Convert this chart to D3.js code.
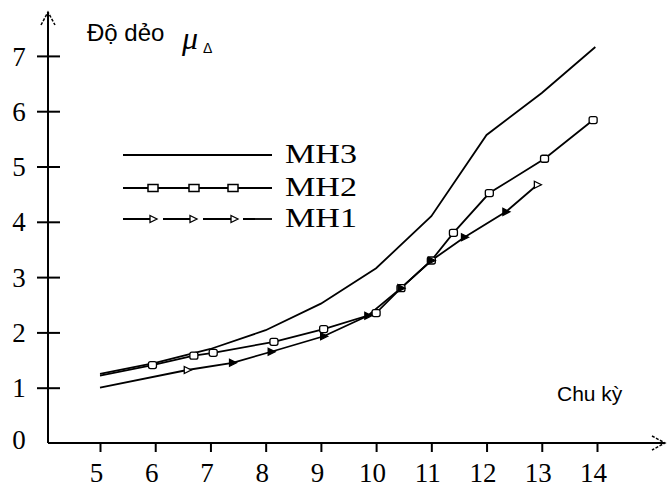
<!DOCTYPE html>
<html>
<head>
<meta charset="utf-8">
<script src="https://cdn.jsdelivr.net/npm/d3@7"></script>
<style>
  body { margin: 0; background: #fff; }
  svg { display: block; }
</style>
</head>
<body>
<script>
// du lieu doc tu hinh
const mh3X = [5, 6, 7, 8, 9, 10, 11, 12, 13, 13.97];
const mh3Y = [1.25, 1.45, 1.7, 2.04, 2.52, 3.16, 4.1, 5.57, 6.33, 7.16];
const mh2X = [5, 5.95, 6.7, 7.05, 8.15, 9.05, 10, 10.45, 11, 11.4, 12.05, 13.05, 13.93];
const mh2Y = [1.22, 1.41, 1.58, 1.63, 1.83, 2.06, 2.35, 2.8, 3.3, 3.8, 4.52, 5.14, 5.84];
const mh1X = [5, 6.58, 7.4, 8.1, 9.05, 9.85, 10.45, 11, 11.6, 12.35, 12.92];
const mh1Y = [1.0, 1.32, 1.45, 1.65, 1.93, 2.3, 2.8, 3.3, 3.72, 4.18, 4.67];
const xTicks = [5, 6, 7, 8, 9, 10, 11, 12, 13, 14];
const yTicks = [0, 1, 2, 3, 4, 5, 6, 7];
const legendNames = ["MH3", "MH2", "MH1"];

const w = 670, h = 490;
const svg = d3.select("body").append("svg").attr("width", w).attr("height", h);

const x = d3.scaleLinear().domain([5, 14]).range([100, 597]);
const y = d3.scaleLinear().domain([0, 7]).range([443, 55.9]);
const x0 = 48, y0 = 443;

// truc
svg.append("line").attr("x1", x0).attr("y1", y0).attr("x2", x0).attr("y2", 12)
  .attr("stroke", "#000").attr("stroke-width", 2);
svg.append("line").attr("x1", x0).attr("y1", y0).attr("x2", 664).attr("y2", y0)
  .attr("stroke", "#000").attr("stroke-width", 2);
svg.append("path").attr("d", "M41,25 L48,12 L55,25").attr("fill", "none")
  .attr("stroke", "#000").attr("stroke-width", 1.5).attr("stroke-dasharray", "3 1.5");
svg.append("path").attr("d", "M652,436 L665,443 L652,450").attr("fill", "none")
  .attr("stroke", "#000").attr("stroke-width", 1.5).attr("stroke-dasharray", "3 1.5");

const xAxis = d3.axisBottom(x).tickValues(xTicks).tickSize(9).tickSizeOuter(0).tickFormat(d3.format("d"));
const gx = svg.append("g").attr("transform", "translate(0," + y0 + ")").call(xAxis);
gx.select(".domain").remove();
gx.selectAll(".tick line").attr("stroke-width", 2);
gx.selectAll(".tick text")
  .attr("font-family", "Liberation Serif, serif").attr("font-size", 27).attr("fill", "#000")
  .attr("y", 20).attr("dy", "0.71em").attr("dx", -4);

const yAxis = d3.axisLeft(y).tickValues(yTicks).tickSize(0).tickFormat(d3.format("d"));
const gy = svg.append("g").attr("transform", "translate(" + x0 + ",0)").call(yAxis);
gy.select(".domain").remove();
gy.selectAll(".tick line").each(function(d) {
  if (d === 0) d3.select(this).remove();
  else d3.select(this).attr("x1", -11).attr("x2", 12).attr("stroke-width", 2);
});
gy.selectAll(".tick text")
  .attr("font-family", "Liberation Serif, serif").attr("font-size", 27).attr("fill", "#000")
  .attr("text-anchor", "middle").attr("x", -29).attr("dy", "0.34em");
gy.selectAll(".tick").filter(d => d === 0).select("text").attr("dy", "0.2em");

// nhan truc
svg.append("text").attr("x", 87).attr("y", 41)
  .attr("font-family", "Liberation Sans, Arial, sans-serif").attr("font-size", 24)
  .text("Độ dẻo");
svg.append("text").attr("x", 182).attr("y", 49)
  .attr("font-family", "Liberation Serif, serif").attr("font-style", "italic").attr("font-size", 32)
  .text("μ");
svg.append("text").attr("x", 203).attr("y", 53)
  .attr("font-family", "Liberation Sans, Arial, sans-serif").attr("font-size", 14)
  .text("Δ");
svg.append("text").attr("x", 557).attr("y", 401)
  .attr("font-family", "Liberation Sans, Arial, sans-serif").attr("font-size", 21)
  .text("Chu kỳ");

// duong
const line = d3.line().x(d => x(d[0])).y(d => y(d[1]));
const mh3 = mh3X.map((v, i) => [v, mh3Y[i]]);
const mh2 = mh2X.map((v, i) => [v, mh2Y[i]]);
const mh1 = mh1X.map((v, i) => [v, mh1Y[i]]);

svg.append("path").datum(mh3).attr("d", line).attr("fill", "none")
  .attr("stroke", "#000").attr("stroke-width", 1.8);
svg.append("path").datum(mh2).attr("d", line).attr("fill", "none")
  .attr("stroke", "#000").attr("stroke-width", 1.8);
svg.append("path").datum(mh1).attr("d", line).attr("fill", "none")
  .attr("stroke", "#000").attr("stroke-width", 1.8);

const triPath = "M-3,-3.5 L4,0 L-3,3.5 Z";
svg.selectAll(".m2").data(mh2.slice(1)).enter().append("rect").attr("class", "m2")
  .attr("x", d => x(d[0]) - 4).attr("y", d => y(d[1]) - 3.5)
  .attr("width", 8).attr("height", 7).attr("rx", 2)
  .attr("fill", "#fff").attr("stroke", "#000").attr("stroke-width", 1.3);
svg.selectAll(".m1").data(mh1.slice(1)).enter().append("path").attr("class", "m1")
  .attr("transform", d => "translate(" + x(d[0]) + "," + y(d[1]) + ")")
  .attr("d", triPath)
  .attr("fill", (d, i) => (i === 0 || i === mh1.length - 2) ? "#fff" : "#000")
  .attr("stroke", "#000").attr("stroke-width", 1.3);

// chu thich
const legY = [155, 188, 219];
const lx1 = 123, lx2 = 272;
svg.append("line").attr("x1", lx1).attr("x2", lx2).attr("y1", legY[0]).attr("y2", legY[0])
  .attr("stroke", "#000").attr("stroke-width", 1.8);
svg.append("line").attr("x1", lx1).attr("x2", lx2).attr("y1", legY[1]).attr("y2", legY[1])
  .attr("stroke", "#000").attr("stroke-width", 1.8);
svg.append("line").attr("x1", lx1).attr("x2", lx2).attr("y1", legY[2]).attr("y2", legY[2])
  .attr("stroke", "#000").attr("stroke-width", 1.8).attr("stroke-dasharray", "32 8");
[153, 194, 233].forEach(mx => {
  svg.append("rect").attr("x", mx - 5).attr("y", legY[1] - 3.5).attr("width", 10).attr("height", 7)
    .attr("fill", "#fff").attr("stroke", "#000").attr("stroke-width", 1.5);
});
[153, 193, 234].forEach(mx => {
  svg.append("path").attr("transform", "translate(" + mx + "," + legY[2] + ")").attr("d", triPath)
    .attr("fill", "#fff").attr("stroke", "#000").attr("stroke-width", 1.3);
});
legendNames.forEach((n, i) => {
  svg.append("text").attr("x", 285).attr("y", legY[i] + 8)
    .attr("font-family", "Liberation Serif, serif").attr("font-size", 27).attr("fill", "#000")
    .attr("textLength", 72).attr("lengthAdjust", "spacingAndGlyphs")
    .text(n);
});
</script>
</body>
</html>
